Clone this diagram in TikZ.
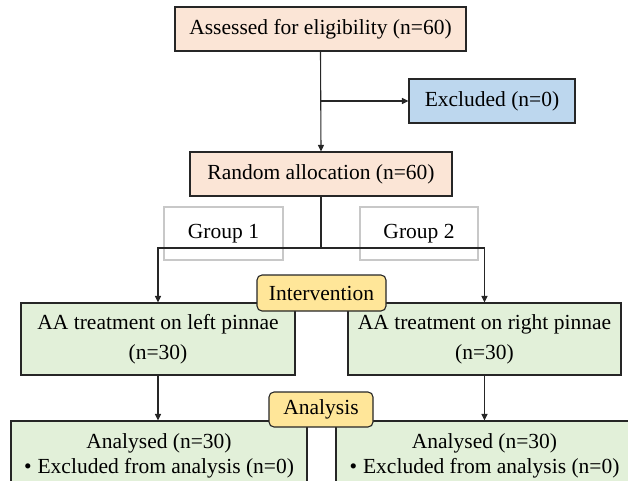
\documentclass[tikz,border=0pt]{standalone}
\usepackage{fontspec}
\setmainfont{Liberation Serif}
\usetikzlibrary{arrows.meta,fit}
\definecolor{peach}{HTML}{FBE5D6}
\definecolor{lblue}{HTML}{BDD7EE}
\definecolor{lgreen}{HTML}{E2F0D9}
\definecolor{lyellow}{HTML}{FFE699}
\definecolor{edge}{HTML}{262626}
\definecolor{grayedge}{HTML}{C8C8C8}
\tikzset{
  box/.style={draw=edge, line width=1.1pt, inner sep=0pt, align=center,
    font=\fontsize{21.5}{25}\selectfont},
  peachbox/.style={box, fill=peach},
  bluebox/.style={box, fill=lblue},
  greenbox/.style={box, fill=lgreen},
  tallgreen/.style={greenbox, font=\fontsize{21.5}{30}\selectfont},
  tagbox/.style={box, fill=lyellow, rounded corners=5pt},
  groupbox/.style={box, draw=grayedge, line width=1.2pt},
  plain/.style={inner sep=0pt, align=center, font=\fontsize{21.5}{25}\selectfont},
  conn/.style={draw=edge, line width=1.1pt},
  arr/.style={conn, -{Triangle[length=6.5pt,width=6pt]}},
}
\begin{document}
\begin{tikzpicture}[x=1pt,y=-1pt]
\useasboundingbox (0,0) rectangle (628,481);
\begin{scope}
\clip (0,0) rectangle (628,481);
% top
\node[peachbox, minimum width=291pt, minimum height=44pt] (assess) at (320.5,29) {Assessed for eligibility (n=60)};
\node[bluebox, minimum width=166pt, minimum height=44pt] (excl) at (492,101) {Excluded (n=0)};
\node[peachbox, minimum width=262pt, minimum height=44pt] (random) at (321,174) {Random allocation (n=60)};
% group labels
\node[groupbox, minimum width=119pt, minimum height=53pt] (g1) at (223.5,233.5) {Group 1};
\node[groupbox, minimum width=118pt, minimum height=53pt] (g2) at (419,233.5) {Group 2};
% connectors
\draw[arr] (assess.south) -- (random.north);
\draw[arr] (assess.south |- excl.west) -- (excl.west);
\coordinate (split) at (321,248);
\draw[conn] (random.south) -- (split);
% treatment boxes
\node[tallgreen, minimum width=274pt, minimum height=72pt] (lg) at (158,339) {AA treatment on left pinnae\\(n=30)};
\node[tallgreen, minimum width=273pt, minimum height=72pt] (rg) at (484.5,339) {AA treatment on right pinnae\\(n=30)};
\draw[arr] (split) -| (lg.north);
\draw[arr] (split) -| (rg.north);
\node[tagbox, minimum width=129pt, minimum height=36pt] (interv) at (321.5,293) {Intervention};
% analysis boxes
\node[greenbox, fit={(11,421) (307,500)}] (anaL) {};
\node[greenbox, fit={(336,421) (633,500)}] (anaR) {};
\node[plain] (anaLt) at (159,456) {Analysed (n=30)\\•\hspace{6pt}Excluded from analysis (n=0)};
\node[plain] (anaRt) at (484.5,456) {Analysed (n=30)\\•\hspace{6pt}Excluded from analysis (n=0)};
\draw[arr] (lg.south) -- (lg.south |- anaL.north);
\draw[arr] (rg.south) -- (rg.south |- anaR.north);
\node[tagbox, minimum width=104pt, minimum height=35pt] (analysis) at (321,409.5) {Analysis};
\end{scope}
\end{tikzpicture}
\end{document}
